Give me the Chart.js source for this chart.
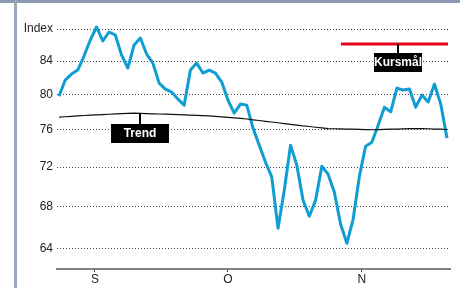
<!DOCTYPE html>
<html>
<head>
<meta charset="utf-8">
<script src="https://cdn.jsdelivr.net/npm/chart.js@4.4.0/dist/chart.umd.min.js"></script>
<style>
  html, body { margin: 0; padding: 0; background: #fff; }
  #wrap { position: relative; width: 460px; height: 288px; overflow: hidden; background: #fff; }
  #topbar { position: absolute; left: 0; top: 0; width: 460px; height: 3px; background: #8a9ab0; }
  #leftbar { position: absolute; left: 14px; top: 0; width: 3px; height: 288px; background: #9aa9bc; }
  #chart { position: absolute; left: 0; top: 0; }
</style>
</head>
<body>
<div id="wrap">
  <canvas id="chart" width="460" height="288"></canvas>
  <div id="topbar"></div>
  <div id="leftbar"></div>
</div>
<script>
// trading days, index 0..62 (Sep - Nov)
const indexValues = [
  79.83, 81.71, 82.42, 82.91, 84.61, 86.60, 88.26, 86.48, 87.62, 87.24,
  84.73, 83.15, 85.98, 86.86, 84.86, 83.75, 81.35, 80.65, 80.30, 79.48,
  78.79, 82.91, 83.75, 82.55, 82.91, 82.55, 81.47, 79.37, 77.88, 78.91,
  78.79, 76.20, 74.34, 72.52, 70.96, 65.89, 69.63, 74.34, 72.21, 68.62,
  67.04, 68.62, 72.10, 71.27, 69.43, 66.27, 64.46, 66.75, 71.06, 74.23,
  74.66, 76.53, 78.55, 78.02, 80.76, 80.53, 80.65, 78.56, 79.95, 79.14,
  81.24, 78.91, 75.10
];

const trendValues = [
  77.43, 77.47, 77.52, 77.56, 77.61, 77.65, 77.68, 77.72, 77.75, 77.79,
  77.82, 77.85, 77.88, 77.86, 77.83, 77.80, 77.78, 77.76, 77.73, 77.71,
  77.68, 77.66, 77.63, 77.60, 77.58, 77.52, 77.46, 77.40, 77.34, 77.28,
  77.22, 77.13, 77.05, 76.96, 76.88, 76.80, 76.71, 76.62, 76.54, 76.45,
  76.38, 76.30, 76.22, 76.15, 76.13, 76.11, 76.09, 76.08, 76.06, 76.04,
  76.02, 76.04, 76.06, 76.08, 76.10, 76.12, 76.15, 76.15, 76.15, 76.13,
  76.10, 76.08, 76.05
];

const kursmalValue = 86.1;
const kursmalRange = [45.05, 62.15];

const yTicks = [64, 68, 72, 76, 80, 84, 88];
const monthTicks = [5.75, 27.0, 48.4];
const monthLabels = ['S', 'O', 'N'];

const toPoints = arr => arr.map((v, i) => ({ x: i, y: v }));

const calloutPlugin = {
  id: 'callouts',
  afterDatasetsDraw(chart) {
    const { ctx, scales: { x, y } } = chart;
    const ti = 13;
    drawCallout(ctx, x.getPixelForValue(ti), y.getPixelForValue(trendValues[ti]), 'Trend', 11, 58, 19);
    drawCallout(ctx, x.getPixelForValue(54.2), y.getPixelForValue(kursmalValue), 'Kursmål', 9, 48, 19);
  }
};

function drawCallout(ctx, px, py, text, gap, w, h) {
  ctx.save();
  px = Math.round(px);
  ctx.strokeStyle = '#000';
  ctx.lineWidth = 2;
  ctx.beginPath();
  ctx.moveTo(px, py);
  ctx.lineTo(px, py + gap);
  ctx.stroke();
  ctx.fillStyle = '#000';
  ctx.fillRect(px - w / 2, Math.round(py + gap), w, h);
  ctx.fillStyle = '#fff';
  ctx.font = "bold 12px 'Liberation Sans Narrow', 'Arial Narrow', Arial, sans-serif";
  ctx.textAlign = 'center';
  ctx.textBaseline = 'middle';
  ctx.fillText(text, px, Math.round(py + gap) + h / 2 + 0.5);
  ctx.restore();
}

new Chart(document.getElementById('chart').getContext('2d'), {
  type: 'line',
  data: {
    datasets: [
      {
        label: 'Trend',
        data: toPoints(trendValues),
        borderColor: '#111',
        borderWidth: 1.2,
        pointRadius: 0,
        tension: 0
      },
      {
        label: 'Kursmål',
        data: kursmalRange.map(x => ({ x: x, y: kursmalValue })),
        borderColor: '#e3051b',
        borderWidth: 3,
        pointRadius: 0
      },
      {
        label: 'Index',
        data: toPoints(indexValues),
        borderColor: '#0f9dd3',
        borderWidth: 3,
        pointRadius: 0,
        tension: 0,
        borderJoinStyle: 'round'
      }
    ]
  },
  options: {
    responsive: false,
    animation: false,
    layout: { padding: { left: 0, right: 10, top: 20, bottom: 0 } },
    plugins: {
      legend: { display: false },
      tooltip: { enabled: false }
    },
    scales: {
      x: {
        type: 'linear',
        min: -0.32,
        max: 62.48,
        afterBuildTicks: scale => { scale.ticks = monthTicks.map(v => ({ value: v })); },
        afterFit: scale => { scale.height = 19; },
        ticks: {
          autoSkip: false,
          maxRotation: 0,
          padding: 0,
          color: '#222',
          font: { family: "'Liberation Sans', Arial, sans-serif", size: 12 },
          callback: (v, i) => monthLabels[i]
        },
        grid: { drawOnChartArea: false, drawTicks: true, tickLength: 3, color: '#333' },
        border: { display: true, color: '#808080', width: 2 }
      },
      y: {
        type: 'logarithmic',
        min: 62.1,
        max: 89.16,
        afterBuildTicks: scale => { scale.ticks = yTicks.map(v => ({ value: v })); },
        afterFit: scale => { scale.width = 57; },
        ticks: {
          padding: 4,
          color: '#222',
          font: { family: "'Liberation Sans', Arial, sans-serif", size: 12 },
          callback: v => (v === 88 ? 'Index' : String(v))
        },
        grid: { drawTicks: false, color: '#444', lineWidth: 1 },
        border: { display: false, dash: [1, 2] }
      }
    }
  },
  plugins: [calloutPlugin]
});
</script>
</body>
</html>
